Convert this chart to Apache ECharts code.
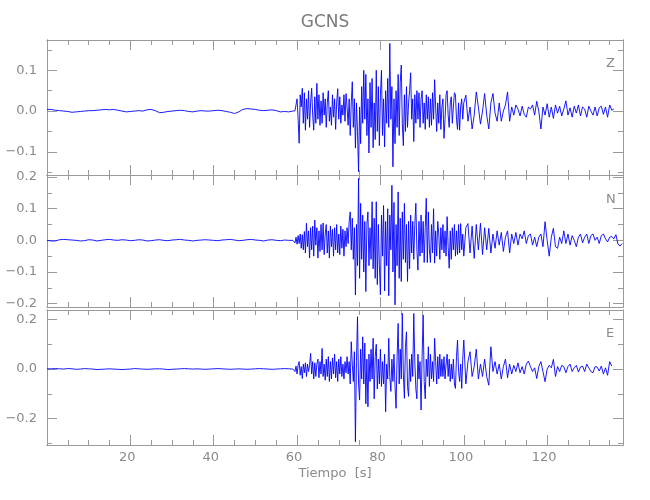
<!DOCTYPE html>
<html><head><meta charset="utf-8">
<script src="https://cdn.jsdelivr.net/npm/echarts@6/dist/echarts.min.js"></script>
<style>html,body{margin:0;padding:0;background:#fff}#c{width:650px;height:500px}</style>
</head><body><div id="c"></div>
<script>
// ---- time sampling of the traces (s) ----
const QUIET_T0 = 0, QUIET_DT = 1;
const MID_T0 = 59, MID_DT = 0.25;
const LATE_T0 = 100, LATE_DT = 0.5;

// ---- Z component (cm/s) ----
const zQuiet = [
0.004,0.004,0.002,0.001,0.000,-0.001,-0.003,-0.002,-0.001,0.000,
0.001,0.001,0.002,0.003,0.004,0.003,0.004,0.002,0.000,-0.002,
-0.001,0.000,0.001,0.000,0.003,0.004,0.001,-0.004,-0.003,-0.001,
0.000,0.001,0.002,0.001,-0.001,-0.002,0.000,0.001,0.000,0.000,
0.001,0.002,0.001,-0.001,-0.003,-0.006,-0.002,0.004,0.006,0.005,
0.004,0.002,0.001,0.002,0.003,0.001,-0.002,-0.001,-0.002];
const zMid = [
0.000,-0.002,0.001,-0.003,  0.030,-0.020,-0.079,0.040,  0.010,0.056,-0.030,0.045,
-0.047,0.030,-0.020,0.050,  -0.040,0.020,0.056,-0.010,  -0.047,0.035,-0.030,0.068,
-0.020,0.040,-0.035,0.025,  -0.030,0.045,-0.010,0.030,  -0.040,0.020,0.050,-0.025,
0.010,-0.035,0.040,-0.015,  0.030,-0.045,0.020,0.055,  -0.020,0.035,-0.030,0.015,
-0.010,0.040,-0.025,0.043,  0.010,-0.035,0.030,-0.060,  0.020,0.072,-0.040,0.030,
-0.091,0.020,-0.050,-0.149,  0.010,-0.080,0.060,-0.030,  0.100,-0.020,0.090,-0.060,
0.030,-0.103,0.070,-0.040,  0.080,-0.090,0.020,-0.070,  0.100,-0.050,0.060,-0.085,
0.040,0.100,-0.060,0.030,  -0.088,0.050,-0.030,0.080,  -0.040,0.166,-0.020,0.060,
-0.137,0.030,-0.080,0.050,  -0.040,0.090,-0.060,0.070,  0.113,-0.030,-0.085,0.040,
-0.050,0.060,-0.040,0.020,  0.050,0.094,-0.020,0.030,  -0.075,0.040,-0.030,0.050,
-0.020,0.045,-0.040,0.030,  0.050,-0.030,0.020,-0.045,  0.040,-0.020,0.035,-0.040,
0.030,-0.035,0.045,-0.020,  0.077,0.010,-0.050,0.020,  -0.030,0.040,-0.045,0.010,
0.030,-0.067,-0.020,0.040,  0.050,-0.010,-0.040,0.020,  0.035,-0.030,0.010,0.045,
0.040,-0.020,-0.045,0.020,  -0.047,0.010,0.030,-0.020];
const zLate = [
0.020,0.039, -0.025,0.010, -0.044,-0.010, 0.047,0.010, -0.032,0.000,
0.043,-0.010, -0.044,0.020, 0.043,-0.005, -0.025,0.020, -0.025,0.000,
0.015,0.047, -0.025,0.010, -0.010,0.015, 0.005,-0.012, 0.012,-0.008,
-0.015,0.010, 0.005,0.015, -0.010,0.024, 0.000,-0.044, 0.010,-0.010,
0.018,-0.015, 0.010,-0.018, 0.015,-0.005, 0.012,-0.012, 0.005,0.025,
-0.010,0.008, -0.015,0.012, -0.005,0.015, -0.012,0.010, 0.005,-0.015,
0.012,0.000, -0.010,0.010, -0.012,0.008, 0.012,-0.008, 0.010,-0.015,
0.015,0.002, 0.005];

// ---- N component (cm/s) ----
const nQuiet = [
0.000,-0.002,-0.002,0.002,0.003,0.002,0.001,0.000,-0.002,-0.001,
0.002,0.001,-0.002,0.000,0.002,0.003,0.001,0.000,0.002,0.001,
-0.001,0.000,0.002,0.001,-0.002,-0.001,0.001,0.002,0.000,-0.001,
0.001,0.002,0.003,0.001,0.000,-0.002,0.000,0.001,0.002,0.001,
0.000,-0.001,0.001,0.002,0.003,0.001,-0.001,0.000,0.002,0.003,
0.001,0.000,-0.002,0.001,0.002,0.000,-0.001,0.001,0.000];
const nMid = [
0.000,0.005,-0.008,0.010,  -0.012,0.015,-0.010,0.020,  -0.025,0.018,-0.030,0.028,
-0.040,0.054,-0.020,0.030,  -0.056,0.040,-0.030,0.045,  -0.050,0.064,-0.015,0.040,
-0.056,0.030,-0.035,0.050,  -0.030,0.055,-0.045,0.020,  0.050,-0.040,0.030,-0.056,
0.045,-0.020,0.035,-0.050,  0.040,-0.030,0.050,-0.040,  0.020,-0.045,0.045,-0.025,
0.035,-0.050,0.030,-0.020,  0.040,-0.010,0.060,0.090,  -0.030,0.070,-0.060,0.040,
-0.173,0.050,-0.080,0.196,  -0.120,0.117,-0.060,0.080,  -0.100,0.060,-0.162,0.050,
0.090,-0.080,0.040,-0.060,  0.122,-0.090,0.070,-0.120,  0.122,-0.140,0.050,-0.080,
-0.172,0.080,-0.050,0.110,  -0.160,0.060,-0.080,0.100,  -0.175,0.080,-0.030,0.174,
-0.100,0.120,-0.204,0.050,  -0.080,0.153,-0.120,0.070,  -0.130,0.090,-0.060,0.117,
-0.070,0.050,-0.130,0.060,  -0.090,0.080,-0.040,0.060,  -0.060,0.050,0.117,-0.030,
-0.094,0.060,-0.050,0.080,  -0.040,0.060,-0.070,0.040,  0.133,-0.070,0.090,-0.030,
-0.070,0.050,-0.040,0.100,  -0.072,0.030,-0.050,0.060,  0.020,-0.060,0.040,-0.030,
0.050,-0.040,0.030,-0.050,  0.075,-0.020,-0.088,0.030,  -0.060,0.040,-0.030,0.050,
-0.050,0.030,-0.045,0.050,  -0.040,0.053,-0.030,0.020];
const nLate = [
-0.050,0.040, 0.053,-0.040, 0.045,-0.057, 0.050,-0.030, 0.054,-0.045,
0.040,-0.030, 0.038,-0.040, 0.020,-0.025, 0.030,-0.015, 0.025,-0.035,
0.010,0.030, -0.040,0.020, -0.010,0.025, -0.015,0.020, 0.005,0.030,
-0.010,0.015, 0.020,-0.015, 0.010,-0.020, 0.010,0.020, -0.020,0.059,
0.000,-0.050, 0.010,0.038, -0.020,-0.025, 0.010,-0.010, 0.030,-0.010,
0.020,-0.015, 0.015,0.000, -0.020,0.010, 0.020,-0.008, 0.010,0.020,
-0.010,0.015, 0.020,0.000, 0.010,-0.010, 0.015,0.020, 0.005,-0.005,
0.010,0.012, 0.005,0.018, -0.012,-0.018, -0.010];

// ---- E component (cm/s) ----
const eQuiet = [
0.001,0.001,0.002,0.001,0.000,0.002,0.001,-0.001,0.000,0.002,
0.001,0.000,-0.002,-0.001,0.000,0.001,0.000,-0.001,-0.002,-0.001,
0.000,0.002,0.001,0.000,-0.001,0.000,0.001,0.001,0.000,-0.002,
-0.001,0.000,0.001,0.002,0.001,0.000,0.001,0.000,-0.001,0.000,
0.001,0.002,0.001,0.000,-0.001,0.000,0.001,0.000,-0.001,0.000,
0.001,0.002,0.001,0.000,-0.001,0.000,0.001,0.002,0.001];
const eMid = [
0.000,0.005,-0.010,0.012,  -0.020,0.015,0.030,-0.025,  0.010,-0.038,0.020,-0.015,
0.025,-0.030,0.020,-0.010,  0.015,0.063,-0.020,0.030,  -0.040,0.025,-0.030,0.020,
0.040,-0.035,0.030,-0.020,  0.083,-0.030,0.020,-0.045,  0.040,-0.030,0.050,-0.050,
0.030,-0.040,0.045,-0.020,  0.060,-0.035,0.030,-0.050,  0.040,-0.020,0.050,-0.030,
0.020,-0.040,0.030,-0.015,  0.050,-0.020,0.030,-0.060,  0.110,0.020,-0.050,0.070,
-0.293,0.030,0.211,-0.060,  -0.125,0.080,-0.040,0.130,  -0.060,0.105,-0.140,0.040,
-0.152,0.060,-0.050,0.080,  -0.040,0.124,-0.120,0.050,  0.100,-0.080,0.040,-0.060,
0.080,-0.070,0.030,-0.060,  0.060,-0.172,0.020,-0.040,  0.124,-0.030,-0.090,0.040,
-0.050,0.060,-0.070,-0.158,  0.050,0.184,-0.060,0.080,  -0.040,0.224,-0.020,-0.118,
0.090,0.150,-0.070,-0.110,  0.040,-0.050,0.060,-0.030,  0.224,0.030,-0.080,-0.120,
0.060,-0.040,0.030,-0.165,  0.050,0.218,-0.050,-0.120,  0.040,-0.030,0.090,-0.070,
0.060,-0.040,0.030,-0.050,  0.124,0.030,-0.060,0.050,  -0.040,0.060,-0.030,0.040,
-0.030,0.050,-0.040,0.020,  0.060,-0.030,0.040,-0.050,  0.020,-0.040,0.040,-0.060,
-0.078,0.050,0.117,-0.010,  -0.050,0.020,-0.078,0.040];
const eLate = [
0.117,-0.060, 0.030,0.070, -0.030,0.010, 0.080,-0.040, 0.020,-0.030,
0.040,-0.030, -0.065,0.090, -0.010,0.030, -0.020,0.020, -0.040,0.010,
0.040,-0.035, 0.020,-0.020, 0.015,-0.010, 0.025,-0.015, 0.010,-0.020,
0.020,0.032, 0.010,-0.010, 0.005,-0.038, 0.010,0.030, -0.010,-0.051,
0.000,0.015, 0.005,0.039, -0.030,0.010, -0.010,0.015, 0.010,-0.015,
0.010,0.020, -0.010,0.005, 0.015,-0.012, 0.008,0.012, -0.010,0.020,
0.005,-0.010, -0.015,0.010, 0.008,-0.008, 0.012,-0.020, 0.005,-0.025,
0.030,0.012];

// ---- axis tick labels ----
const xTickLabels = [20, 40, 60, 80, 100, 120];
const xMinorTicks = [5,10,15,25,30,35,45,50,55,65,70,75,85,90,95,105,110,115,125,130,135];
const zTicks = [-0.1, 0.0, 0.1];
const nTicks = [-0.2, -0.1, 0.0, 0.1, 0.2];
const eTicks = [-0.2, 0.0, 0.2];
const zMinor = [-0.15, -0.05, 0.05, 0.15];
const nMinor = [-0.15, -0.05, 0.05, 0.15];
const eMinor = [-0.3, -0.1, 0.1];
const components = ['Z', 'N', 'E'];

function build(q, m, l) {
  const d = [];
  q.forEach((v, i) => d.push([QUIET_T0 + i * QUIET_DT, v]));
  m.forEach((v, i) => d.push([MID_T0 + i * MID_DT, v]));
  l.forEach((v, i) => d.push([LATE_T0 + i * LATE_DT, v]));
  return d;
}
const traces = [build(zQuiet, zMid, zLate), build(nQuiet, nMid, nLate), build(eQuiet, eMid, eLate)];

const AX = '#9a9a9a', TX = '#8a8a8a', FONT = 'Liberation Sans Narrow, DejaVu Sans, sans-serif';
const XMAX = 138.2;
const panels = [
  {top: 40, height: 135, min: -0.157, max: 0.1745, major: zTicks, minor: zMinor},
  {top: 175, height: 132, min: -0.2107, max: 0.2066, major: nTicks, minor: nMinor},
  {top: 310, height: 135, min: -0.306, max: 0.238, major: eTicks, minor: eMinor}
];
const grids = [], xAxes = [], yAxes = [], series = [];
const fmt = v => (v < 0 ? '\u2212' : '') + Math.abs(v).toFixed(1);
panels.forEach((p, g) => {
  grids.push({left: 47, width: 576, top: p.top, height: p.height, outerBoundsMode: 'none', containLabel: false});
  const mkX = (pos, ticks, len, withLabel) => ({
    type: 'value', gridIndex: g, position: pos, min: 0, max: XMAX,
    axisLine: {show: true, onZero: false, lineStyle: {color: AX, width: 1}},
    axisTick: {show: true, inside: true, length: len, customValues: ticks, lineStyle: {color: AX}},
    axisLabel: withLabel ? {show: true, customValues: xTickLabels, color: TX, fontFamily: FONT, fontSize: 13, margin: 6, padding: [0, 6, 0, 0]} : {show: false},
    splitLine: {show: false},
    name: withLabel ? 'Tiempo  [s]' : '', nameLocation: 'middle', nameGap: 22,
    nameTextStyle: {color: TX, fontFamily: FONT, fontSize: 13}
  });
  const mainX = xAxes.length;
  xAxes.push(mkX('bottom', xTickLabels, 10, g === 2));
  xAxes.push(mkX('bottom', xMinorTicks, 5, false));
  xAxes.push(mkX('top', xTickLabels, 10, false));
  xAxes.push(mkX('top', xMinorTicks, 5, false));
  const mkY = (pos, ticks, len, withLabel) => ({
    type: 'value', gridIndex: g, position: pos, min: p.min, max: p.max,
    axisLine: {show: true, onZero: false, lineStyle: {color: AX, width: 1}},
    axisTick: {show: true, inside: true, length: len, customValues: ticks, lineStyle: {color: AX}},
    axisLabel: withLabel ? {show: true, customValues: p.major, formatter: fmt, color: TX, fontFamily: FONT, fontSize: 13, margin: 10} : {show: false},
    splitLine: {show: false},
    name: (withLabel && g === 1) ? 'Amplitud  [cm/s]' : '', nameLocation: 'middle', nameGap: 33,
    nameTextStyle: {color: TX, fontFamily: FONT, fontSize: 13}
  });
  const mainY = yAxes.length;
  yAxes.push(mkY('left', p.major, 10, true));
  yAxes.push(mkY('left', p.minor, 5, false));
  yAxes.push(mkY('right', p.major, 10, false));
  yAxes.push(mkY('right', p.minor, 5, false));
  series.push({
    type: 'line', xAxisIndex: mainX, yAxisIndex: mainY, data: traces[g],
    showSymbol: false, symbol: 'none', clip: true,
    lineStyle: {color: '#0000ff', width: 0.9}
  });
});

const chart = echarts.init(document.getElementById('c'), null, {renderer: 'canvas'});
chart.setOption({
  animation: false,
  backgroundColor: '#ffffff',
  title: [
    {text: 'GCNS', left: 'center', top: 9, textStyle: {color: '#7a7a7a', fontFamily: FONT, fontWeight: 'normal', fontSize: 17}},
    {text: components[0], left: 601, top: 52, textStyle: {color: TX, fontFamily: FONT, fontWeight: 'normal', fontSize: 13}},
    {text: components[1], left: 601, top: 188, textStyle: {color: TX, fontFamily: FONT, fontWeight: 'normal', fontSize: 13}},
    {text: components[2], left: 601, top: 322, textStyle: {color: TX, fontFamily: FONT, fontWeight: 'normal', fontSize: 13}}
  ],
  grid: grids,
  xAxis: xAxes,
  yAxis: yAxes,
  series: series
});
</script>
</body></html>
